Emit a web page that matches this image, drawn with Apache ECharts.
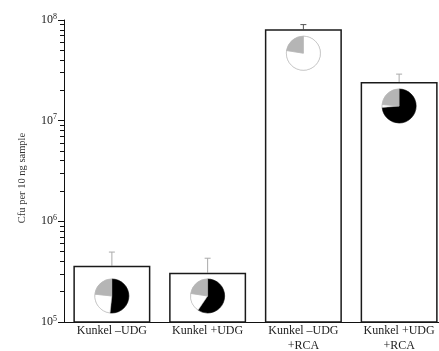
<!DOCTYPE html>
<html><head><meta charset="utf-8">
<script src="https://cdn.jsdelivr.net/npm/echarts@6/dist/echarts.min.js"></script>
<style>html,body{margin:0;padding:0;background:#fff}#c{width:439px;height:351px}</style>
</head><body><div id="c"></div>
<script>
const categories = ['Kunkel \u2013UDG', 'Kunkel +UDG', 'Kunkel \u2013UDG\n+RCA', 'Kunkel +UDG\n+RCA'];
const cfuValues = [3.62e5, 3.09e5, 8.1e7, 2.42e7];
const errorTops = [4.95e5, 4.3e5, 9.0e7, 2.9e7];
// pie fractions, clockwise from 12 o'clock
const pieBlack = [0.517, 0.594, 0.0, 0.736];
const pieWhite = [0.250, 0.180, 0.775, 0.028];
const pieGray  = [0.233, 0.226, 0.225, 0.236];
const yTickExponents = {1e5: '5', 1e6: '6', 1e7: '7', 1e8: '8'};
const decadeStarts = [1e5, 1e6, 1e7];
const minorMultipliers = [2, 3, 4, 5, 6, 7, 8, 9];

const minorTickLogs = [];
decadeStarts.forEach(d => minorMultipliers.forEach(m => minorTickLogs.push(Math.log10(m * d))));

const FONT = '"Liberation Serif", "DejaVu Serif", serif';
const chart = echarts.init(document.getElementById('c'), null, {renderer: 'canvas'});

const errData = categories.map((c, i) => [i, cfuValues[i], errorTops[i]]);
const pieData = categories.map((c, i) => [i, cfuValues[i], pieBlack[i], pieWhite[i], pieGray[i]]);

chart.setOption({
  animation: false,
  backgroundColor: '#fff',
  textStyle: {fontFamily: FONT},
  grid: {left: 64, right: -8, top: 20, bottom: 29, containLabel: false, outerBoundsMode: 'none'},
  xAxis: {
    type: 'category', data: categories,
    axisLine: {lineStyle: {color: '#111', width: 1}},
    axisTick: {show: false},
    axisLabel: {interval: 0, color: '#222', fontSize: 12, fontFamily: FONT, margin: 1.5, lineHeight: 15}
  },
  yAxis: [{
    type: 'log', logBase: 10, min: 1e5, max: 1e8,
    name: 'Cfu per 10 ng sample', nameLocation: 'middle', nameGap: 36,
    nameTextStyle: {color: '#333', fontSize: 10.5, fontFamily: FONT, padding: [0, 14, 0, 0]},
    axisLine: {show: true, lineStyle: {color: '#111', width: 1}},
    axisTick: {show: true, inside: false, length: 6, lineStyle: {color: '#111'}},
    minorTick: {show: false},
    splitLine: {show: false},
    axisLabel: {
      margin: 7, color: '#222',
      formatter: v => '{b|10}{s|' + (yTickExponents[v] || Math.round(Math.log10(v))) + '}',
      rich: {b: {fontSize: 12, lineHeight: 15, fontFamily: FONT, color: '#222'},
             s: {fontSize: 8, lineHeight: 9, fontFamily: FONT, color: '#222', verticalAlign: 'top'}}
    }
  }, {
    type: 'value', min: 5, max: 8, position: 'left', offset: 0,
    axisLine: {show: false},
    axisLabel: {show: false},
    splitLine: {show: false},
    axisTick: {show: true, inside: false, length: 4, customValues: minorTickLogs, lineStyle: {color: '#111'}}
  }],
  series: [
    {
      type: 'bar', data: cfuValues, barWidth: 77,
      itemStyle: {color: '#fff', borderColor: '#1a1a1a', borderWidth: 1.5},
      z: 2
    },
    {
      type: 'custom', data: errData, encode: {x: 0, y: 2}, z: 1,
      renderItem: (params, api) => {
        const i = api.value(0);
        const top = api.coord([i, api.value(2)]);
        const base = api.coord([i, api.value(1)]);
        const col = i === 2 ? '#555' : '#aaa';
        return {type: 'group', children: [
          {type: 'line', shape: {x1: top[0], y1: top[1], x2: base[0], y2: base[1]}, style: {stroke: col, lineWidth: 1}},
          {type: 'line', shape: {x1: top[0] - 3, y1: top[1], x2: top[0] + 3, y2: top[1]}, style: {stroke: col, lineWidth: 1}}
        ]};
      }
    },
    {
      type: 'custom', data: pieData, encode: {x: 0, y: 1}, z: 5,
      renderItem: (params, api) => {
        const i = api.value(0);
        const top = api.coord([i, api.value(1)]);
        const bottom = api.coord([i, 1e5]);
        const cx = top[0];
        const cy = (bottom[1] - top[1] > 100) ? top[1] + 24 : bottom[1] - 26;
        const r = 17;
        const fr = [api.value(2), api.value(3), api.value(4)];
        const cols = ['#000', '#fff', '#b5b5b5'];
        const children = [{type: 'circle', shape: {cx, cy, r}, style: {fill: '#fff', stroke: '#b0b0b0', lineWidth: 0.6}}];
        let acc = 0;
        fr.forEach((f, k) => {
          if (f > 0) {
            const s = -Math.PI / 2 + 2 * Math.PI * acc;
            const e = -Math.PI / 2 + 2 * Math.PI * (acc + f);
            children.push({type: 'sector', shape: {cx, cy, r0: 0, r, startAngle: s, endAngle: e, clockwise: true},
              style: {fill: cols[k], stroke: k === 1 ? '#aaa' : cols[k], lineWidth: 0.5}});
          }
          acc += f;
        });
        return {type: 'group', children};
      }
    }
  ]
});
</script></body></html>
